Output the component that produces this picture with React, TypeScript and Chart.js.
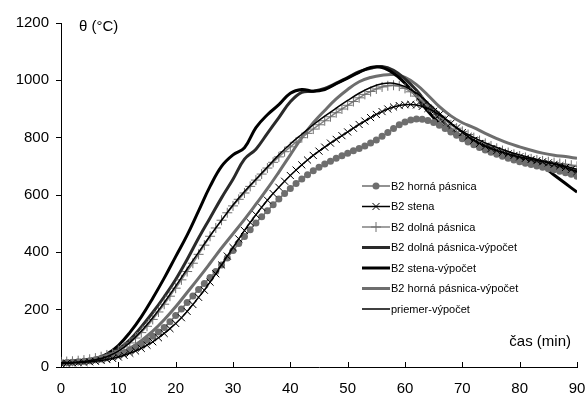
import React, { useEffect, useRef } from 'react';
import { Chart, registerables } from 'chart.js';
Chart.register(...registerables);

// time axes (minutes)
const minutes = Array.from({ length: 91 }, (_, i) => i);
const calcMinutes = Array.from({ length: 46 }, (_, i) => i * 2);

const xTicks = [0, 10, 20, 30, 40, 50, 60, 70, 80, 90];
const yTicks = [0, 200, 400, 600, 800, 1000, 1200];

// measured series (1 min step)
const hornaPasnica = [
  15, 16, 17, 18, 20, 22, 25, 28, 32, 37,
  43, 50, 58, 68, 80, 93, 107, 122, 138, 158,
  180, 202, 225, 248, 270, 291, 312, 333, 356, 380,
  406, 431, 455, 479, 502, 524, 545, 566, 586, 605,
  623, 640, 656, 671, 685, 697, 708, 718, 728, 737,
  746, 754, 762, 771, 781, 792, 805, 818, 832, 845,
  855, 862, 865, 864, 860, 853, 843, 832, 820, 808,
  796, 785, 775, 766, 757, 749, 742, 735, 728, 722,
  716, 711, 706, 701, 697, 692, 688, 683, 678, 672,
  665,
];
const stena = [
  12, 13, 14, 15, 16, 18, 20, 23, 26, 30,
  35, 41, 48, 56, 65, 76, 88, 102, 117, 134,
  152, 172, 194, 218, 243, 268, 296, 325, 356, 387,
  417, 447, 476, 504, 531, 557, 582, 605, 627, 648,
  668, 687, 705, 722, 738, 753, 767, 781, 794, 807,
  820, 833, 846, 858, 870, 881, 891, 900, 907, 912,
  915, 916, 914, 909, 902, 892, 880, 866, 850, 834,
  818, 804, 791, 780, 770, 762, 755, 749, 743, 738,
  733, 728, 724, 720, 716, 712, 707, 702, 696, 689,
  682,
];
const dolnaPasnica = [
  18, 19, 20, 22, 24, 27, 31, 36, 42, 49,
  58, 70, 84, 101, 120, 142, 166, 192, 219, 247,
  275, 304, 333, 362, 393, 425, 456, 485, 512, 538,
  562, 585, 607, 630, 652, 673, 694, 714, 733, 751,
  768, 784, 800, 815, 830, 845, 859, 873, 887, 900,
  913, 926, 939, 951, 961, 970, 977, 981, 983, 980,
  972, 960, 945, 928, 910, 892, 875, 859, 845, 833,
  822, 811, 800, 790, 780, 771, 763, 755, 748, 742,
  736, 731, 726, 722, 719, 716, 713, 710, 707, 704,
  700,
];

// calculated series (2 min step)
const dolnaVypocet = [
  15, 16, 20, 27, 40, 62, 95, 140, 190, 245,
  305, 375, 450, 520, 590, 655, 725, 760, 815, 870,
  925, 958, 962, 972, 990, 1010, 1030, 1042, 1048, 1035,
  1005, 965, 915, 868, 830, 805, 788, 772, 756, 742,
  730, 718, 708, 699, 690, 682,
];
const stenaVypocet = [
  15, 17, 22, 30, 45, 75, 120, 175, 240, 310,
  385, 460, 545, 630, 700, 740, 765, 835, 880, 915,
  955, 968, 962, 968, 988, 1008, 1028, 1045, 1045, 1025,
  990, 945, 892, 850, 820, 800, 785, 770, 752, 738,
  725, 712, 700, 670, 640, 610,
];
const hornaVypocet = [
  15, 16, 18, 22, 30, 45, 65, 92, 125, 165,
  210, 260, 310, 362, 415, 465, 515, 568, 622, 680,
  740, 800, 852, 895, 935, 968, 995, 1010, 1018, 1020,
  1010, 985, 948, 908, 876, 852, 835, 815, 797, 781,
  768, 756, 746, 739, 734, 728,
];
const priemerVypocet = [
  15, 16, 19, 25, 36, 55, 85, 125, 172, 225,
  282, 342, 400, 458, 512, 565, 612, 655, 698, 740,
  778, 812, 845, 875, 903, 930, 955, 975, 988, 990,
  978, 955, 922, 885, 850, 822, 800, 782, 766, 752,
  740, 729, 719, 710, 700, 690,
];

const toXY = (xs: number[], ys: number[]) => xs.map((x, i) => ({ x, y: ys[i] }));

const FONT = "'Liberation Sans', Arial, sans-serif";

function drawMarker(ctx: CanvasRenderingContext2D, style: string, x: number, y: number, r: number, color: string) {
  ctx.save();
  ctx.strokeStyle = color;
  ctx.fillStyle = color;
  ctx.lineWidth = 1;
  ctx.beginPath();
  if (style === 'circle') {
    ctx.arc(x, y, r, 0, Math.PI * 2);
    ctx.fill();
  } else if (style === 'crossRot') {
    const d = r * 0.7071;
    ctx.moveTo(x - d, y - d); ctx.lineTo(x + d, y + d);
    ctx.moveTo(x + d, y - d); ctx.lineTo(x - d, y + d);
    ctx.stroke();
  } else if (style === 'cross') {
    ctx.moveTo(x, y - r); ctx.lineTo(x, y + r);
    ctx.moveTo(x - r, y); ctx.lineTo(x + r, y);
    ctx.stroke();
  }
  ctx.restore();
}

const overlayPlugin = {
  id: 'overlay',
  afterDraw(chart: any) {
    const ctx: CanvasRenderingContext2D = chart.ctx;
    const xs = chart.scales.x;
    const area = chart.chartArea;
    ctx.save();
    // inward x ticks
    ctx.strokeStyle = '#000';
    ctx.lineWidth = 1;
    xTicks.forEach((t) => {
      const px = Math.round(xs.getPixelForValue(t)) + 0.5;
      ctx.beginPath();
      ctx.moveTo(px, area.bottom);
      ctx.lineTo(px, area.bottom - 5);
      ctx.stroke();
    });
    // axis titles
    ctx.fillStyle = '#000';
    ctx.font = `15px ${FONT}`;
    ctx.textBaseline = 'middle';
    ctx.textAlign = 'left';
    ctx.fillText('θ (°C)', area.left + 18, 27);
    ctx.textAlign = 'right';
    ctx.fillText('čas (min)', area.right - 6, 342);
    // legend
    ctx.font = `11px ${FONT}`;
    ctx.textAlign = 'left';
    chart.data.datasets.forEach((ds: any, i: number) => {
      const y = 186 + i * 20.5;
      const x0 = 362, x1 = 390;
      ctx.save();
      ctx.strokeStyle = ds.borderColor;
      ctx.lineWidth = ds.borderWidth;
      ctx.beginPath();
      ctx.moveTo(x0, y);
      ctx.lineTo(x1, y);
      ctx.stroke();
      ctx.restore();
      if (ds.pointRadius > 0) {
        drawMarker(ctx, ds.pointStyle, (x0 + x1) / 2, y, ds.pointRadius, ds.pointBorderColor || ds.borderColor);
      }
      ctx.fillStyle = '#000';
      ctx.fillText(ds.label, 391, y + 0.5);
    });
    ctx.restore();
  },
};

export default function App() {
  const ref = useRef<HTMLCanvasElement | null>(null);
  useEffect(() => {
    if (!ref.current) return;
    const chart = new Chart(ref.current, {
      type: 'line',
      data: {
        datasets: [
          {
            label: 'B2 horná pásnica',
            data: toXY(minutes, hornaPasnica),
            borderColor: '#6e6e6e',
            borderWidth: 1.5,
            pointStyle: 'circle',
            pointRadius: 3.5,
            pointBackgroundColor: '#6e6e6e',
            pointBorderColor: '#6e6e6e',
            pointBorderWidth: 0,
            tension: 0.3,
            order: 3,
          },
          {
            label: 'B2 stena',
            data: toXY(minutes, stena),
            borderColor: '#000000',
            borderWidth: 1.5,
            pointStyle: 'crossRot',
            pointRadius: 5,
            pointBorderColor: '#000000',
            pointBorderWidth: 1,
            tension: 0.3,
            order: 2,
          },
          {
            label: 'B2 dolná pásnica',
            data: toXY(minutes, dolnaPasnica),
            borderColor: '#808080',
            borderWidth: 1.5,
            pointStyle: 'cross',
            pointRadius: 5,
            pointBorderColor: '#707070',
            pointBorderWidth: 1,
            tension: 0.3,
            order: 4,
          },
          {
            label: 'B2 dolná pásnica-výpočet',
            data: toXY(calcMinutes, dolnaVypocet),
            borderColor: '#2a2a2a',
            borderWidth: 3,
            pointRadius: 0,
            tension: 0.4,
            order: 6,
          },
          {
            label: 'B2 stena-výpočet',
            data: toXY(calcMinutes, stenaVypocet),
            borderColor: '#000000',
            borderWidth: 3,
            pointRadius: 0,
            tension: 0.4,
            order: 5,
          },
          {
            label: 'B2 horná pásnica-výpočet',
            data: toXY(calcMinutes, hornaVypocet),
            borderColor: '#6e6e6e',
            borderWidth: 3,
            pointRadius: 0,
            tension: 0.4,
            order: 7,
          },
          {
            label: 'priemer-výpočet',
            data: toXY(calcMinutes, priemerVypocet),
            borderColor: '#000000',
            borderWidth: 1.5,
            pointRadius: 0,
            tension: 0.4,
            order: 1,
          },
        ],
      },
      options: {
        animation: false,
        responsive: false,
        layout: { padding: { top: 23, right: 9, left: 0, bottom: 0 } },
        plugins: { legend: { display: false }, tooltip: { enabled: false } },
        scales: {
          x: {
            type: 'linear',
            min: 0,
            max: 90,
            afterBuildTicks: (s: any) => { s.ticks = xTicks.map((v) => ({ value: v })); },
            afterFit: (s: any) => { s.height = 40; s.paddingLeft = 0; s.paddingRight = 0; },
            grid: { display: false, drawTicks: false },
            border: { display: true, color: '#000', width: 1 },
            ticks: { color: '#000', font: { family: FONT, size: 15 }, padding: 13, maxRotation: 0, callback: (v: any) => String(v) },
          },
          y: {
            type: 'linear',
            min: 0,
            max: 1200,
            afterBuildTicks: (s: any) => { s.ticks = yTicks.map((v) => ({ value: v })); },
            afterFit: (s: any) => { s.width = 61; s.paddingTop = 0; s.paddingBottom = 0; },
            grid: { drawOnChartArea: false, drawTicks: true, tickLength: 5, color: '#000' },
            border: { display: true, color: '#000', width: 1 },
            ticks: { color: '#000', font: { family: FONT, size: 15 }, padding: 7, callback: (v: any) => String(v) },
          },
        },
      },
      plugins: [overlayPlugin],
    } as any);
    return () => chart.destroy();
  }, []);
  return (
    <div style={{ position: 'absolute', left: 0, top: 0, width: 586, height: 407, background: '#fff' }}>
      <canvas ref={ref} width={586} height={407} style={{ display: 'block' }} />
    </div>
  );
}
